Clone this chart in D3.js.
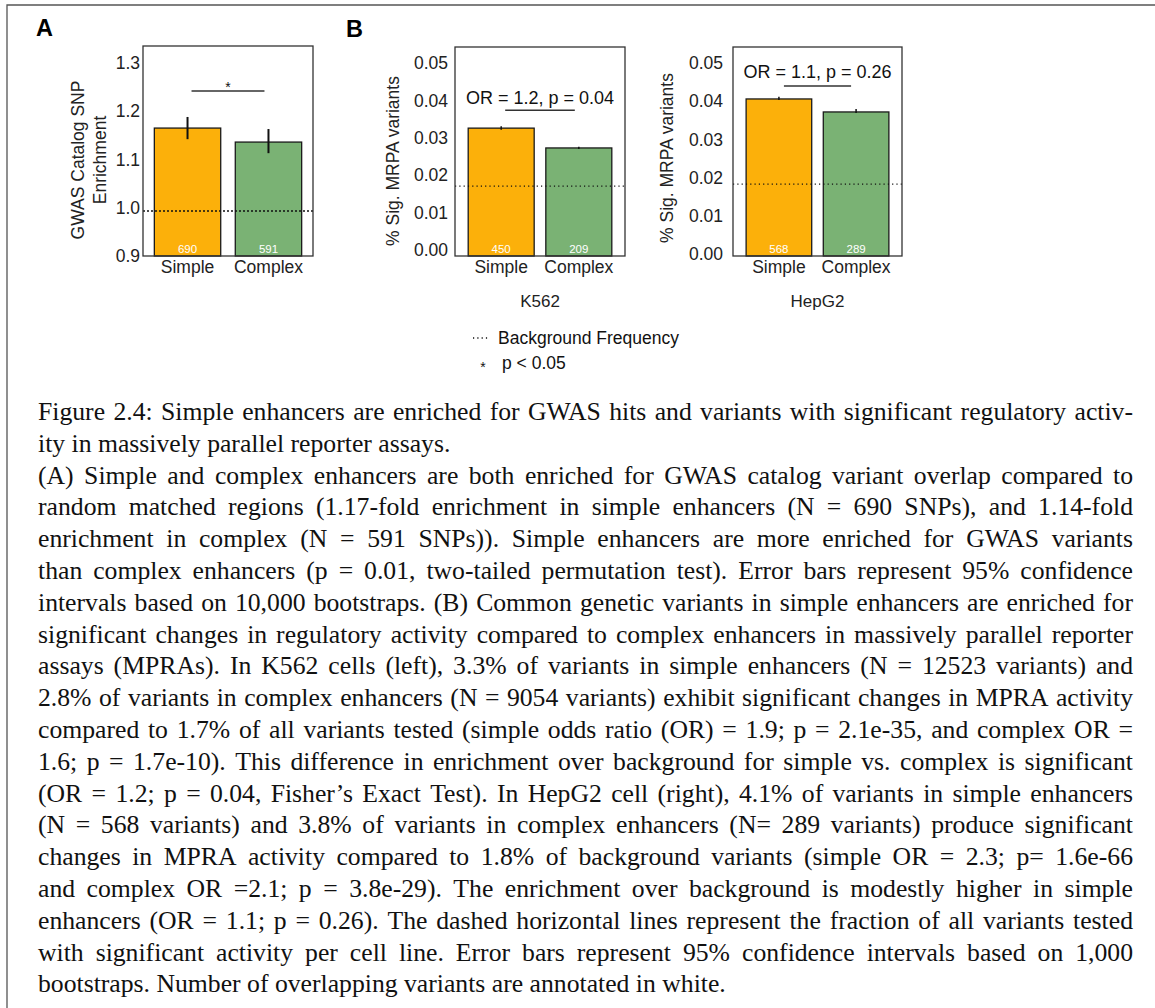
<!DOCTYPE html>
<meta charset="utf-8">
<style>
body { margin: 0; background: #fff; }
#fig text { font-family: "Liberation Sans", Arial, sans-serif; }
#fig .caption text { font-family: "Liberation Serif", "Times New Roman", serif; font-size: 25.7px; fill: #111; }
</style>
<svg id="fig" width="1155" height="1008"></svg>
<script src="https://cdnjs.cloudflare.com/ajax/libs/d3/7.8.5/d3.min.js"></script>
<script>
// categories shared by all three panels
var categories = ["Simple", "Complex"];

// A: GWAS catalog SNP enrichment
var gwasValues = [1.165, 1.136];
var gwasLower = [1.142, 1.113];
var gwasUpper = [1.188, 1.163];
var gwasCounts = [690, 591];
var gwasBackground = 0.993;
var gwasTicks = [0.9, 1.0, 1.1, 1.2, 1.3];

// B: fraction of significant MPRA variants
var k562Values = [0.0326, 0.0273];
var k562Lower = [0.0322, 0.0270];
var k562Upper = [0.0331, 0.0276];
var k562Counts = [450, 209];
var k562Background = 0.0171;

var hepg2Values = [0.0406, 0.0372];
var hepg2Lower = [0.0403, 0.0369];
var hepg2Upper = [0.0412, 0.0380];
var hepg2Counts = [568, 289];
var hepg2Background = 0.0183;

var mpraTicks = [0, 0.01, 0.02, 0.03, 0.04, 0.05];

var captionLines = [
  "Figure 2.4: Simple enhancers are enriched for GWAS hits and variants with significant regulatory activ-",
  "ity in massively parallel reporter assays.",
  "(A) Simple and complex enhancers are both enriched for GWAS catalog variant overlap compared to",
  "random matched regions (1.17-fold enrichment in simple enhancers (N = 690 SNPs), and 1.14-fold",
  "enrichment in complex (N = 591 SNPs)).  Simple enhancers are more enriched for GWAS variants",
  "than complex enhancers (p = 0.01, two-tailed permutation test).  Error bars represent 95% confidence",
  "intervals based on 10,000 bootstraps. (B) Common genetic variants in simple enhancers are enriched for",
  "significant changes in regulatory activity compared to complex enhancers in massively parallel reporter",
  "assays (MPRAs). In K562 cells (left), 3.3% of variants in simple enhancers (N = 12523 variants) and",
  "2.8% of variants in complex enhancers (N = 9054 variants) exhibit significant changes in MPRA activity",
  "compared to 1.7% of all variants tested (simple odds ratio (OR) = 1.9; p = 2.1e-35, and complex OR =",
  "1.6; p = 1.7e-10). This difference in enrichment over background for simple vs. complex is significant",
  "(OR = 1.2; p = 0.04, Fisher\u2019s Exact Test). In HepG2 cell (right), 4.1% of variants in simple enhancers",
  "(N = 568 variants) and 3.8% of variants in complex enhancers (N= 289 variants) produce significant",
  "changes in MPRA activity compared to 1.8% of background variants (simple OR = 2.3; p= 1.6e-66",
  "and complex OR =2.1; p = 3.8e-29).  The enrichment over background is modestly higher in simple",
  "enhancers (OR = 1.1; p = 0.26). The dashed horizontal lines represent the fraction of all variants tested",
  "with significant activity per cell line.  Error bars represent 95% confidence intervals based on 1,000",
  "bootstraps. Number of overlapping variants are annotated in white."
];
var lastLines = [1, 18]; // paragraph ends, not justified

var barColors = ["#fcb00a", "#7ab274"];
var sansFont = "'Liberation Sans', Arial, sans-serif";

var svg = d3.select("#fig");

// frame around the whole figure (only top and left edges show)
svg.append("path")
    .attr("d", "M7,1008V5H1155")
    .attr("fill", "none")
    .attr("stroke", "#555")
    .attr("stroke-width", 1.3);

function drawPanel(p) {
  var g = svg.append("g");

  var x = d3.scaleBand()
      .domain(categories)
      .range([p.left, p.right])
      .paddingInner(p.padIn)
      .paddingOuter(p.padOut);

  var y = d3.scaleLinear()
      .domain(p.domain)
      .range([p.bottom, p.top]);

  g.selectAll(".bar")
    .data(p.values)
    .enter().append("rect")
      .attr("class", "bar")
      .attr("x", function(d, i) { return x(categories[i]); })
      .attr("y", function(d) { return y(d); })
      .attr("width", x.bandwidth())
      .attr("height", function(d) { return y(p.domain[0]) - y(d); })
      .attr("fill", function(d, i) { return barColors[i]; })
      .attr("stroke", "#1a1a1a")
      .attr("stroke-width", 1.3);

  // background frequency
  g.append("line")
      .attr("x1", p.left).attr("x2", p.right)
      .attr("y1", y(p.background)).attr("y2", y(p.background))
      .attr("stroke", "#111")
      .attr("stroke-width", p.dotWidth)
      .attr("stroke-dasharray", p.dots);

  // error bars
  g.selectAll(".err")
    .data(p.values)
    .enter().append("line")
      .attr("class", "err")
      .attr("x1", function(d, i) { return x(categories[i]) + x.bandwidth() / 2; })
      .attr("x2", function(d, i) { return x(categories[i]) + x.bandwidth() / 2; })
      .attr("y1", function(d, i) { return y(p.lower[i]); })
      .attr("y2", function(d, i) { return y(p.upper[i]); })
      .attr("stroke", "#111")
      .attr("stroke-width", p.errWidth);

  // counts in white
  g.selectAll(".count")
    .data(p.counts)
    .enter().append("text")
      .attr("class", "count")
      .attr("x", function(d, i) { return x(categories[i]) + x.bandwidth() / 2; })
      .attr("y", p.bottom - 3.5)
      .attr("text-anchor", "middle")
      .attr("font-size", 11.5)
      .attr("fill", "#fff")
      .text(function(d) { return d; });

  g.append("rect")
      .attr("x", p.left).attr("y", p.top)
      .attr("width", p.right - p.left)
      .attr("height", p.bottom - p.top)
      .attr("fill", "none")
      .attr("stroke", "#333")
      .attr("stroke-width", 1.3);

  var ya = g.append("g")
      .attr("transform", "translate(" + p.left + ",0)")
      .call(d3.axisLeft(y).tickValues(p.ticks).tickFormat(d3.format(p.fmt)).tickSize(0).tickPadding(p.tickPad));
  ya.select(".domain").remove();
  ya.attr("font-size", 17.5).attr("font-family", sansFont).attr("color", "#222");

  var xa = g.append("g")
      .attr("transform", "translate(0," + p.bottom + ")")
      .call(d3.axisBottom(x).tickSize(0).tickPadding(5));
  xa.select(".domain").remove();
  xa.attr("font-size", 17.5).attr("font-family", sansFont).attr("color", "#222");

  // y label, one or two lines
  p.ylabel.forEach(function(t, i) {
    g.append("text")
        .attr("transform", "translate(" + (p.ylabelX + i * 22) + "," + p.ylabelY + ") rotate(-90)")
        .attr("text-anchor", "middle")
        .attr("font-size", 17.5)
        .attr("fill", "#222")
        .text(t);
  });

  // comparison bracket
  var c0 = x(categories[0]) + x.bandwidth() / 2,
      c1 = x(categories[1]) + x.bandwidth() / 2;
  g.append("line")
      .attr("x1", c0 - p.sigExt).attr("x2", c1 + p.sigExt)
      .attr("y1", y(p.sigLine)).attr("y2", y(p.sigLine))
      .attr("stroke", "#333")
      .attr("stroke-width", 1.5);
  g.append("text")
      .attr("x", (c0 + c1) / 2 + p.sigDx)
      .attr("y", y(p.sigLine) - p.sigGap)
      .attr("text-anchor", "middle")
      .attr("font-size", p.sigSize)
      .attr("fill", "#111")
      .text(p.sigText);

  if (p.title) {
    g.append("text")
        .attr("x", (p.left + p.right) / 2)
        .attr("y", 307)
        .attr("text-anchor", "middle")
        .attr("font-size", 17)
        .attr("fill", "#222")
        .text(p.title);
  }
}

drawPanel({
  left: 143, right: 313, top: 46, bottom: 256,
  padIn: 0.18, padOut: 0.14,
  domain: [0.9, 1.335], ticks: gwasTicks, fmt: ".1f", tickPad: 3,
  values: gwasValues, lower: gwasLower, upper: gwasUpper, counts: gwasCounts,
  background: gwasBackground, dots: "2,2", dotWidth: 1.5, errWidth: 2,
  ylabel: ["GWAS Catalog SNP", "Enrichment"], ylabelX: 84, ylabelY: 160,
  sigLine: 1.242, sigExt: -4, sigGap: -1, sigDx: 0, sigSize: 14, sigText: "*"
});

drawPanel({
  left: 455, right: 625, top: 47, bottom: 256,
  padIn: 0.15, padOut: 0.17,
  domain: [-0.0016, 0.0543], ticks: mpraTicks, fmt: ".2f", tickPad: 7,
  values: k562Values, lower: k562Lower, upper: k562Upper, counts: k562Counts,
  background: k562Background, dots: "1.2,3.1", dotWidth: 1.3, errWidth: 1.5,
  ylabel: ["% Sig. MRPA variants"], ylabelX: 399, ylabelY: 161,
  sigLine: 0.0374, sigExt: -4, sigGap: 6, sigDx: 0, sigSize: 18, sigText: "OR = 1.2, p = 0.04",
  title: "K562"
});

drawPanel({
  left: 733, right: 902, top: 47, bottom: 256,
  padIn: 0.15, padOut: 0.17,
  domain: [-0.0005, 0.0542], ticks: mpraTicks, fmt: ".2f", tickPad: 10,
  values: hepg2Values, lower: hepg2Lower, upper: hepg2Upper, counts: hepg2Counts,
  background: hepg2Background, dots: "1.2,3.1", dotWidth: 1.3, errWidth: 1.5,
  ylabel: ["% Sig. MRPA variants"], ylabelX: 673, ylabelY: 158,
  sigLine: 0.044, sigExt: -5, sigGap: 7.5, sigDx: 0, sigSize: 18, sigText: "OR = 1.1, p = 0.26",
  title: "HepG2"
});

// panel letters
svg.append("text").attr("x", 36).attr("y", 36).attr("font-size", 23.5).attr("font-weight", 700).attr("fill", "#000").text("A");
svg.append("text").attr("x", 346).attr("y", 37).attr("font-size", 23.5).attr("font-weight", 700).attr("fill", "#000").text("B");

// legend
var legend = svg.append("g");
legend.append("line")
    .attr("x1", 473).attr("x2", 490).attr("y1", 338).attr("y2", 338)
    .attr("stroke", "#111").attr("stroke-width", 1.3).attr("stroke-dasharray", "1.2,3.1");
legend.append("text").attr("x", 498).attr("y", 344).attr("font-size", 17.5).attr("fill", "#111").text("Background Frequency");
legend.append("text").attr("x", 483).attr("y", 372).attr("text-anchor", "middle").attr("font-size", 14).attr("fill", "#111").text("*");
legend.append("text").attr("x", 502).attr("y", 369).attr("font-size", 17.5).attr("fill", "#111").text("p < 0.05");

// caption, justified word by word
var capLeft = 38, capRight = 1133, capTop = 420, capStep = 31.8;
var cap = svg.append("g").attr("class", "caption");
captionLines.forEach(function(line, li) {
  var words = line.split(/\s+/);
  var t = cap.append("text").attr("y", capTop + li * capStep);
  var spans = words.map(function(w) { return t.append("tspan").text(w); });
  var widths = spans.map(function(s) { return s.node().getComputedTextLength(); });
  var total = d3.sum(widths);
  var space = lastLines.indexOf(li) >= 0 || words.length < 2
      ? 25.7 * 0.25
      : (capRight - capLeft - total) / (words.length - 1);
  var xx = capLeft;
  spans.forEach(function(s, i) {
    s.attr("x", xx);
    xx += widths[i] + space;
  });
});
</script>
